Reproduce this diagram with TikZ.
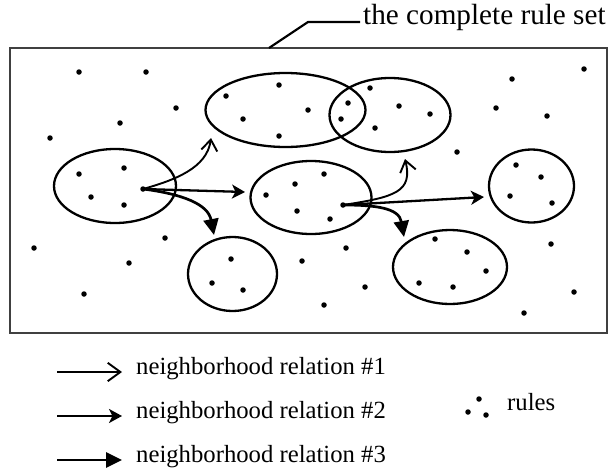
\documentclass[tikz,border=0pt]{standalone}
\usepackage{fontspec}
\setmainfont{Liberation Serif}
\usetikzlibrary{shapes.geometric, arrows.meta}

\begin{document}
\begin{tikzpicture}[x=1pt, y=-1pt,
    rule/.style={circle, fill, inner sep=0pt, minimum size=5.5pt},
    region/.style={ellipse, draw, line width=2.3pt, inner sep=0pt},
    rel1/.style={line width=1.9pt, -{Straight Barb[length=11pt, width=16pt, line width=1.9pt, scale=#1]}},
    rel1/.default=1,
    rel2/.style={line width=2.3pt, -{Stealth[length=13pt, width=14pt, inset=3.5pt, scale=#1]}},
    rel2/.default=1,
    rel3/.style={line width=2.7pt, -{Triangle[length=16pt, width=15pt, scale=#1]}},
    rel3/.default=1,
    legtext/.style={anchor=mid west, inner sep=0pt, font=\fontsize{24.7}{26}\selectfont}]
    \useasboundingbox (0,0) rectangle (610,474);

    % Define the rule set
    \draw[line width=2.4pt, black!75] (10,48) rectangle (607,333);
    \coordinate (lead) at (269,48);
    \coordinate (kink) at (308,22);
    \node[anchor=mid west, inner sep=3pt, font=\fontsize{29.2}{30}\selectfont] (title) at (360,22) {the complete rule set};
    \draw[line width=2.2pt] (lead) -- (kink) -- (title.mid west);

    % Define neighborhoods
    \node[region, minimum width=160pt, minimum height=74pt] (n1) at (285.5,110) {};
    \node[region, minimum width=121pt, minimum height=74pt] (n2) at (390,115) {};
    \node[region, minimum width=122pt, minimum height=74pt] (n3) at (115,186) {};
    \node[region, minimum width=121pt, minimum height=73pt] (n4) at (311,197.5) {};
    \node[region, minimum width=85pt, minimum height=73pt] (n5) at (531.5,186) {};
    \node[region, minimum width=89pt, minimum height=74pt] (n6) at (232.5,274) {};
    \node[region, minimum width=114pt, minimum height=74pt] (n7) at (450,267) {};

    % Define rules
    \foreach \x/\y [count=\i] in {79/72, 146/72, 176/108, 120/123, 50/138, 512/79, 584/69,
        496/108, 547/116, 457/152, 165/238, 34/248, 129/263, 84/294, 302/261, 346/248,
        365/287, 324/305, 551/244, 574/292, 524/313,
        226/96, 279/85, 308/110, 243/119, 279/136, 348/103, 341/119,
        370/88, 399/106, 430/114, 375/128,
        79/174, 124/168, 91/197, 124/205,
        324/174, 295/184, 266/195, 297/211, 330/219,
        516/165, 541/177, 510/196, 552/203,
        231/259, 212/283, 243/290,
        435/239, 467/252, 486/271, 419/283, 453/287}
        \node[rule] (r\i) at (\x,\y) {};
    \node[rule] (srcA) at (143,189) {};
    \node[rule] (srcB) at (343,205) {};

    % Draw relations
    \coordinate (a1) at (211,138);
    \coordinate (a2) at (245,192);
    \coordinate (a3) at (214,235);
    \coordinate (b1) at (405,159);
    \coordinate (b2) at (484,197);
    \coordinate (b3) at (404,237);
    \draw[rel1] (srcA.center) .. controls (175,180) and (207,168) .. (a1);
    \draw[rel2] (srcA.center) -- (a2);
    \draw[rel3] (srcA.center) .. controls (182,194) and (208,204) .. (a3);
    \draw[rel1] (srcB.center) .. controls (395,197) and (413,192) .. (b1);
    \draw[rel2] (srcB.center) -- (b2);
    \draw[rel3] (srcB.center) .. controls (376,205) and (399,208) .. (b3);

    % Legend
    \coordinate (s1) at (57,372);
    \coordinate (e1) at (122,372);
    \coordinate (s2) at (57,416);
    \coordinate (e2) at (122,416);
    \coordinate (s3) at (57,460);
    \coordinate (e3) at (122,460);
    \draw[rel1=1.15] (s1) -- (e1);
    \draw[rel2] (s2) -- (e2);
    \draw[rel3] (s3) -- (e3);
    \node[legtext] (k1) at (136,372) {neighborhood relation \#1};
    \node[legtext] (k2) at (136,416) {neighborhood relation \#2};
    \node[legtext] (k3) at (136,460) {neighborhood relation \#3};
    \node[rule] (d1) at (479,399) {};
    \node[rule] (d2) at (468,412) {};
    \node[rule] (d3) at (486,415) {};
    \node[legtext] (k4) at (507,408) {rules};
\end{tikzpicture}
\end{document}
